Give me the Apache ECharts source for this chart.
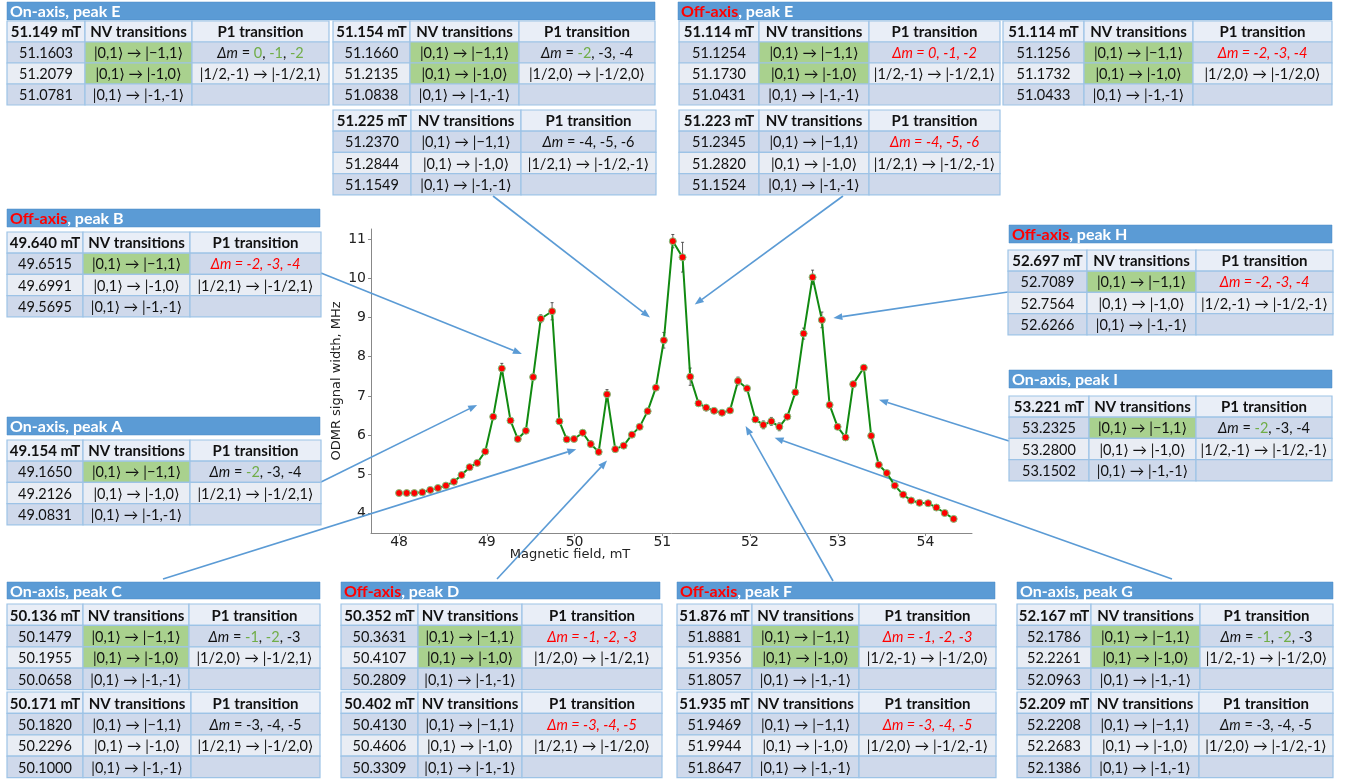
<!DOCTYPE html>
<html>
<head>
<meta charset="utf-8">
<script src="https://cdn.jsdelivr.net/npm/echarts@6/dist/echarts.min.js"></script>
<style>
html, body { margin: 0; padding: 0; background: #fff; }
#main { width: 1353px; height: 779px; }
</style>
</head>
<body>
<div id="main"></div>
<script>
// ---- plot data ----
var fieldMT = [48.000, 48.087, 48.174, 48.265, 48.356, 48.443, 48.534, 48.625, 48.712, 48.804,
    48.891, 48.982, 49.073, 49.171, 49.270, 49.353, 49.445, 49.528, 49.615, 49.744,
    49.827, 49.911, 49.994, 50.093, 50.184, 50.275, 50.370, 50.464, 50.560, 50.654,
    50.742, 50.833, 50.927, 51.018, 51.120, 51.231, 51.318, 51.413, 51.500, 51.590,
    51.681, 51.772, 51.863, 51.966, 52.061, 52.152, 52.243, 52.334, 52.425, 52.516,
    52.611, 52.713, 52.819, 52.907, 52.998, 53.089, 53.176, 53.297, 53.381, 53.468,
    53.559, 53.650, 53.745, 53.836, 53.931, 54.030, 54.124, 54.219, 54.321];
var widthMHz = [4.52, 4.52, 4.52, 4.54, 4.60, 4.65, 4.71, 4.81, 4.98, 5.18,
    5.29, 5.58, 6.47, 7.70, 6.37, 5.90, 6.11, 7.48, 8.97, 9.16,
    6.35, 5.89, 5.90, 6.06, 5.77, 5.57, 7.04, 5.64, 5.73, 6.01,
    6.21, 6.61, 7.21, 8.42, 10.95, 10.54, 7.49, 6.81, 6.70, 6.62,
    6.57, 6.63, 7.38, 7.19, 6.40, 6.26, 6.35, 6.21, 6.47, 7.09,
    8.59, 10.03, 8.94, 6.77, 6.21, 5.94, 7.30, 7.72, 5.98, 5.24,
    5.03, 4.71, 4.48, 4.33, 4.27, 4.26, 4.15, 4.01, 3.86];
var widthErr = [0.03, 0.03, 0.03, 0.03, 0.03, 0.03, 0.03, 0.03, 0.03, 0.03,
    0.03, 0.03, 0.05, 0.13, 0.05, 0.04, 0.06, 0.05, 0.10, 0.22,
    0.05, 0.03, 0.04, 0.07, 0.08, 0.04, 0.12, 0.04, 0.04, 0.06,
    0.04, 0.07, 0.05, 0.20, 0.17, 0.38, 0.22, 0.06, 0.08, 0.05,
    0.04, 0.04, 0.10, 0.08, 0.05, 0.10, 0.10, 0.10, 0.06, 0.07,
    0.14, 0.18, 0.20, 0.08, 0.04, 0.04, 0.06, 0.06, 0.05, 0.06,
    0.04, 0.03, 0.03, 0.03, 0.03, 0.03, 0.03, 0.03, 0.03];
var xTicks = [48, 49, 50, 51, 52, 53, 54];
var yTicks = [4, 5, 6, 7, 8, 9, 10, 11];

// ---- table contents ----
var nvLines = ['|0,1⟩ → |−1,1⟩', '|0,1⟩ → |-1,0⟩', '|0,1⟩ → |-1,-1⟩'];

var tOnE1 = { head: '51.149 mT', freq: ['51.1603', '51.2079', '51.0781'], dm: '{i|Δm} = {g|0}, {g|-1}, {g|-2}', p1: '|1/2,-1⟩ → |-1/2,1⟩', green: 2 };
var tOnE2 = { head: '51.154 mT', freq: ['51.1660', '51.2135', '51.0838'], dm: '{i|Δm} = {g|-2}, -3, -4', p1: '|1/2,0⟩ → |-1/2,0⟩', green: 2 };
var tOnE3 = { head: '51.225 mT', freq: ['51.2370', '51.2844', '51.1549'], dm: '{i|Δm} = -4, -5, -6', p1: '|1/2,1⟩ → |-1/2,-1⟩', green: 0 };
var tOffE1 = { head: '51.114 mT', freq: ['51.1254', '51.1730', '51.0431'], dm: '{ri|Δm = 0, -1, -2}', p1: '|1/2,-1⟩ → |-1/2,1⟩', green: 2 };
var tOffE2 = { head: '51.114 mT', freq: ['51.1256', '51.1732', '51.0433'], dm: '{ri|Δm = -2, -3, -4}', p1: '|1/2,0⟩ → |-1/2,0⟩', green: 2 };
var tOffE3 = { head: '51.223 mT', freq: ['51.2345', '51.2820', '51.1524'], dm: '{ri|Δm = -4, -5, -6}', p1: '|1/2,1⟩ → |-1/2,-1⟩', green: 0 };
var tOffB = { head: '49.640 mT', freq: ['49.6515', '49.6991', '49.5695'], dm: '{ri|Δm = -2, -3, -4}', p1: '|1/2,1⟩ → |-1/2,1⟩', green: 1 };
var tOnA = { head: '49.154 mT', freq: ['49.1650', '49.2126', '49.0831'], dm: '{i|Δm} = {g|-2}, -3, -4', p1: '|1/2,1⟩ → |-1/2,1⟩', green: 1 };
var tOnC1 = { head: '50.136 mT', freq: ['50.1479', '50.1955', '50.0658'], dm: '{i|Δm} = {g|-1}, {g|-2}, -3', p1: '|1/2,0⟩ → |-1/2,1⟩', green: 2 };
var tOnC2 = { head: '50.171 mT', freq: ['50.1820', '50.2296', '50.1000'], dm: '{i|Δm} = -3, -4, -5', p1: '|1/2,1⟩ → |-1/2,0⟩', green: 0 };
var tOffD1 = { head: '50.352 mT', freq: ['50.3631', '50.4107', '50.2809'], dm: '{ri|Δm = -1, -2, -3}', p1: '|1/2,0⟩ → |-1/2,1⟩', green: 2 };
var tOffD2 = { head: '50.402 mT', freq: ['50.4130', '50.4606', '50.3309'], dm: '{ri|Δm = -3, -4, -5}', p1: '|1/2,1⟩ → |-1/2,0⟩', green: 0 };
var tOffF1 = { head: '51.876 mT', freq: ['51.8881', '51.9356', '51.8057'], dm: '{ri|Δm = -1, -2, -3}', p1: '|1/2,-1⟩ → |-1/2,0⟩', green: 2 };
var tOffF2 = { head: '51.935 mT', freq: ['51.9469', '51.9944', '51.8647'], dm: '{ri|Δm = -3, -4, -5}', p1: '|1/2,0⟩ → |-1/2,-1⟩', green: 0 };
var tOnG1 = { head: '52.167 mT', freq: ['52.1786', '52.2261', '52.0963'], dm: '{i|Δm} = {g|-1}, {g|-2}, -3', p1: '|1/2,-1⟩ → |-1/2,0⟩', green: 2 };
var tOnG2 = { head: '52.209 mT', freq: ['52.2208', '52.2683', '52.1386'], dm: '{i|Δm} = -3, -4, -5', p1: '|1/2,0⟩ → |-1/2,-1⟩', green: 0 };
var tOffH = { head: '52.697 mT', freq: ['52.7089', '52.7564', '52.6266'], dm: '{ri|Δm = -2, -3, -4}', p1: '|1/2,-1⟩ → |-1/2,-1⟩', green: 1 };
var tOnI = { head: '53.221 mT', freq: ['53.2325', '53.2800', '53.1502'], dm: '{i|Δm} = {g|-2}, -3, -4', p1: '|1/2,-1⟩ → |-1/2,-1⟩', green: 1 };

var peakTitles = ['On-axis, peak E', '{r|Off-axis}, peak E', '{r|Off-axis}, peak B', 'On-axis, peak A',
    '{r|Off-axis}, peak H', 'On-axis, peak I', 'On-axis, peak C', '{r|Off-axis}, peak D',
    '{r|Off-axis}, peak F', 'On-axis, peak G'];

// arrow tips point at these spots of the curve (mT, MHz)
var arrowTips = [[50.86, 9.0], [51.37, 9.33], [49.40, 8.07], [48.89, 6.77], [50.02, 5.64],
    [50.37, 5.35], [51.95, 6.23], [52.28, 5.93], [52.95, 8.99], [53.47, 6.90]];

// ---- layout (pixels) ----
var headPos = [[7, 2, 648, 18], [678, 2, 654, 18], [7, 209, 313, 18], [7, 417, 313, 18],
    [1009, 225, 323, 18], [1009, 370, 323, 18], [7, 582, 313, 17], [341, 582, 319, 17],
    [677, 582, 318, 17], [1017, 582, 316, 17]];
var tabPos = [
    [tOnE1, 7, 21, [78, 107, 137], 21],
    [tOnE2, 333, 21, [77, 109, 136], 21],
    [tOnE3, 333, 110, [78, 110, 135], 21.2],
    [tOffE1, 679, 21, [80, 110, 131], 21],
    [tOffE2, 1003, 21, [81, 109, 139], 21],
    [tOffE3, 679, 110, [80, 110, 131], 21.2],
    [tOffB, 7, 232, [76, 107, 131], 21.2],
    [tOnA, 7, 440, [76, 107, 131], 21.2],
    [tOffH, 1008, 250, [79, 109, 137], 21.2],
    [tOnI, 1009, 396, [80, 107, 136], 21.2],
    [tOnC1, 7, 604, [76, 106, 131], 21.4],
    [tOnC2, 7, 692, [76, 108, 129], 21.4],
    [tOffD1, 341, 604, [77, 104, 140], 21.4],
    [tOffD2, 341, 692, [77, 104, 140], 21.4],
    [tOffF1, 677, 604, [75, 107, 137], 21.4],
    [tOffF2, 677, 692, [75, 107, 137], 21.4],
    [tOnG1, 1017, 604, [74, 109, 133], 21.4],
    [tOnG2, 1017, 692, [74, 108, 134], 21.4]
];
var arrowFrom = [[493, 196], [843, 196], [321, 273], [321, 482], [163, 579],
    [497, 579], [833, 581], [1172, 579], [1008, 292], [1009, 441]];

var FONT = 'Lato, "DejaVu Sans", sans-serif';
var AXFONT = '"DejaVu Sans", sans-serif';
var BORDER = '#9dc3e6';
var BODY = 14.5;
var richStyles = {
    i: { fontStyle: 'italic', fontSize: BODY, fontFamily: FONT, fill: '#111' },
    g: { fill: '#70ad47', fontSize: BODY, fontFamily: FONT },
    ri: { fill: '#ff0000', fontStyle: 'italic', fontSize: BODY, fontFamily: FONT },
    r: { fill: '#ff0000', fontWeight: 'bold', fontSize: 16, fontFamily: FONT }
};

var myChart = echarts.init(document.getElementById('main'));

var points = fieldMT.map(function (x, i) { return [x, widthMHz[i]]; });
var errData = fieldMT.map(function (x, i) { return [x, widthMHz[i] - widthErr[i], widthMHz[i] + widthErr[i]]; });

var option = {
    animation: false,
    backgroundColor: '#fff',
    grid: { left: 371, top: 229, width: 601, height: 304 },
    xAxis: {
        type: 'value', min: 47.68, max: 54.53,
        splitLine: { show: false },
        axisLine: { lineStyle: { color: '#888', width: 1 } },
        axisTick: { customValues: xTicks, length: 3, lineStyle: { color: '#888' } },
        axisLabel: { customValues: xTicks, margin: 2, fontSize: 14, color: '#222', fontFamily: AXFONT }
    },
    yAxis: {
        type: 'value', min: 3.5, max: 11.26,
        name: 'ODMR signal width, MHz', nameLocation: 'middle', nameGap: 28,
        nameTextStyle: { fontSize: 13, color: '#222', fontFamily: AXFONT },
        splitLine: { show: false },
        axisLine: { show: true, lineStyle: { color: '#888', width: 1 } },
        axisTick: { show: true, customValues: yTicks, length: 3, lineStyle: { color: '#888' } },
        axisLabel: { customValues: yTicks, margin: 5, fontSize: 14, color: '#222', fontFamily: AXFONT }
    },
    series: [
        {
            type: 'custom',
            z: 2,
            encode: { x: 0, y: [1, 2] },
            data: errData,
            renderItem: function (params, api) {
                var lo = api.coord([api.value(0), api.value(1)]);
                var hi = api.coord([api.value(0), api.value(2)]);
                var st = { stroke: '#333', lineWidth: 0.8 };
                return {
                    type: 'group',
                    children: [
                        { type: 'line', shape: { x1: lo[0], y1: lo[1], x2: hi[0], y2: hi[1] }, style: st },
                        { type: 'line', shape: { x1: lo[0] - 1.5, y1: lo[1], x2: lo[0] + 1.5, y2: lo[1] }, style: st },
                        { type: 'line', shape: { x1: hi[0] - 1.5, y1: hi[1], x2: hi[0] + 1.5, y2: hi[1] }, style: st }
                    ]
                };
            }
        },
        {
            type: 'line',
            z: 3,
            data: points,
            symbol: 'circle',
            symbolSize: 7,
            lineStyle: { color: '#118a11', width: 2 },
            itemStyle: { color: '#ff0000', borderColor: '#7cc47c', borderWidth: 1 }
        }
    ]
};
myChart.setOption(option);

// ---- annotations: titles, tables, arrows ----
var g = [];

g.push({
    type: 'text', z: 5, x: 570, y: 555,
    style: { text: 'Magnetic field, mT', fontSize: 13, fontFamily: AXFONT, fill: '#222', align: 'center', verticalAlign: 'middle', textAlign: 'center', textVerticalAlign: 'middle' }
});

peakTitles.forEach(function (t, k) {
    var p = headPos[k];
    g.push({ type: 'rect', z: 10, shape: { x: p[0], y: p[1], width: p[2], height: p[3] },
        style: { fill: '#5b9bd5', stroke: '#4a8ac6', lineWidth: 0.5 } });
    g.push({ type: 'text', z: 11, x: p[0] + 3, y: p[1] + p[3] / 2 + 1,
        style: { text: t, fill: '#fff', fontSize: 16, fontWeight: 'bold', fontFamily: FONT,
            align: 'left', verticalAlign: 'middle', textAlign: 'left', textVerticalAlign: 'middle', rich: richStyles } });
});

var rowFill = ['#e9eef7', '#cfd9eb', '#e9edf4', '#cfd9eb'];
tabPos.forEach(function (tp) {
    var t = tp[0], x0 = tp[1], y0 = tp[2], cols = tp[3], rh = tp[4];
    var rows = [
        [t.head, 'NV transitions', 'P1 transition'],
        [t.freq[0], nvLines[0], t.dm],
        [t.freq[1], nvLines[1], t.p1],
        [t.freq[2], nvLines[2], '']
    ];
    for (var r = 0; r < 4; r++) {
        var cx = x0;
        for (var c = 0; c < 3; c++) {
            var fill = (c === 1 && r >= 1 && r <= t.green) ? '#a9d18e' : rowFill[r];
            g.push({ type: 'rect', z: 10, shape: { x: cx, y: y0 + r * rh, width: cols[c], height: rh },
                style: { fill: fill, stroke: BORDER, lineWidth: 1.2 } });
            if (rows[r][c]) {
                g.push({ type: 'text', z: 11, x: cx + cols[c] / 2, y: y0 + r * rh + rh / 2 + 1,
                    style: { text: rows[r][c], fill: '#111', fontSize: r === 0 ? 15 : BODY,
                        fontWeight: r === 0 ? 'bold' : 'normal', fontFamily: FONT,
                        align: 'center', verticalAlign: 'middle', textAlign: 'center', textVerticalAlign: 'middle',
                        rich: richStyles } });
            }
            cx += cols[c];
        }
    }
});

arrowTips.forEach(function (tip, k) {
    var a = arrowFrom[k];
    var b = myChart.convertToPixel({ gridIndex: 0 }, tip);
    var ang = Math.atan2(b[1] - a[1], b[0] - a[0]);
    var L = 9, W = 3.5;
    var bx = b[0] - L * Math.cos(ang), by = b[1] - L * Math.sin(ang);
    g.push({ type: 'line', z: 1, shape: { x1: a[0], y1: a[1], x2: bx, y2: by },
        style: { stroke: '#5b9bd5', lineWidth: 1.6 } });
    g.push({ type: 'polygon', z: 1, shape: { points: [
        [b[0], b[1]],
        [bx + W * Math.sin(ang), by - W * Math.cos(ang)],
        [bx - W * Math.sin(ang), by + W * Math.cos(ang)]
    ] }, style: { fill: '#5b9bd5' } });
});

myChart.setOption({ graphic: g });

window.onresize = function () {
    myChart.resize();
};
</script>
</body>
</html>
